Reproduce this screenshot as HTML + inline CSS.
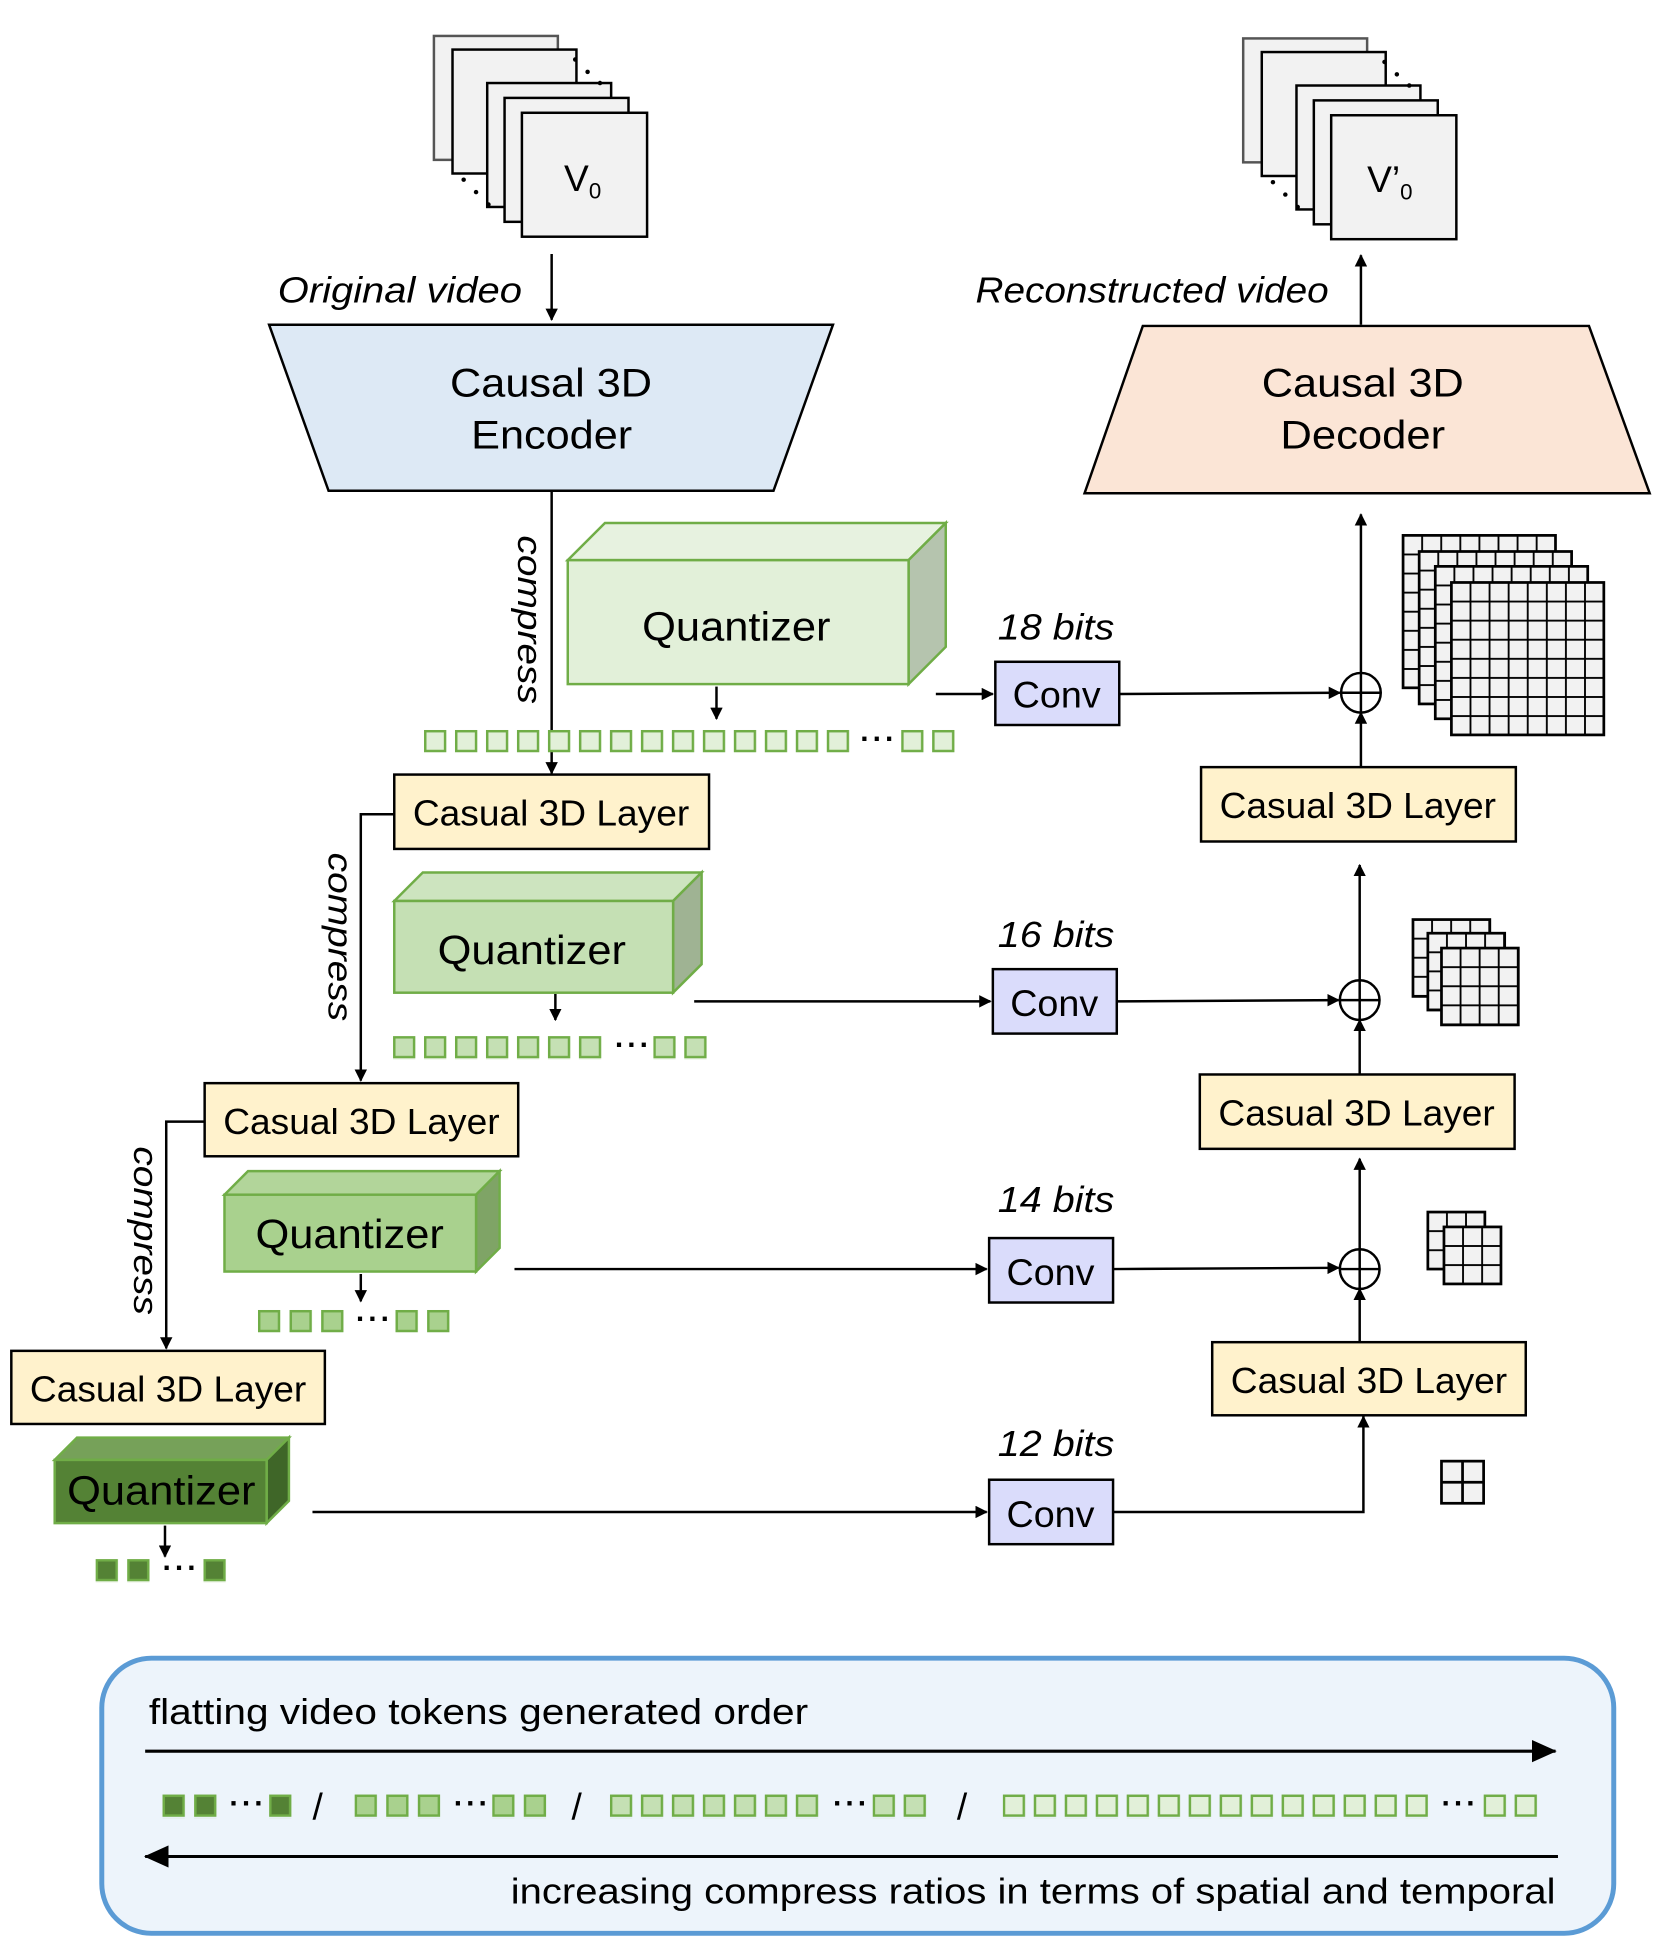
<!DOCTYPE html>
<html><head><meta charset="utf-8"><style>
html,body{margin:0;padding:0;background:#fff}
svg{display:block}
</style></head><body>
<svg width="1661" height="1942" viewBox="0 0 1340 1567" xmlns="http://www.w3.org/2000/svg" font-family="Liberation Sans, DejaVu Sans, sans-serif">
<defs>
<marker id="ar" markerWidth="10" markerHeight="10" refX="9" refY="5" orient="auto" markerUnits="userSpaceOnUse"><path d="M0,0 L10,5 L0,10 z" fill="#000"/></marker>
<marker id="arB" markerWidth="20" markerHeight="18" refX="19" refY="9" orient="auto" markerUnits="userSpaceOnUse"><path d="M0,0 L20,9 L0,18 z" fill="#000"/></marker>
<pattern id="t1" width="25" height="19" patternUnits="userSpaceOnUse"><rect x="1" y="1" width="16" height="16" fill="#e2f0d9" stroke="#70ad47" stroke-width="2"/></pattern>
<pattern id="t2" width="25" height="19" patternUnits="userSpaceOnUse"><rect x="1" y="1" width="16" height="16" fill="#c5e0b4" stroke="#70ad47" stroke-width="2"/></pattern>
<pattern id="t3" width="25.5" height="19" patternUnits="userSpaceOnUse"><rect x="1" y="1" width="16" height="16" fill="#a9d18e" stroke="#70ad47" stroke-width="2"/></pattern>
<pattern id="t4" width="25.5" height="19" patternUnits="userSpaceOnUse"><rect x="1" y="1" width="16" height="16" fill="#548235" stroke="#70ad47" stroke-width="2"/></pattern>
<pattern id="g" width="15.4" height="15.4" patternUnits="userSpaceOnUse"><rect width="15.4" height="15.4" fill="#f2f2f2" stroke="#000" stroke-width="1.5"/></pattern>
</defs>

<g fill="#f2f2f2" stroke="#000" stroke-width="2">
<rect x="350" y="29" width="100" height="100" stroke="#555"/>
<rect x="365" y="40" width="100" height="100"/>
<rect x="393" y="67" width="100" height="100"/>
<rect x="407" y="79" width="100" height="100"/>
<rect x="421" y="91" width="101" height="100"/>
</g>
<g fill="#000"><circle cx="464" cy="48" r="1.8"/><circle cx="474" cy="58" r="1.8"/><circle cx="484" cy="67" r="1.8"/>
<circle cx="374" cy="145" r="1.8"/><circle cx="384" cy="155" r="1.8"/><circle cx="394" cy="165" r="1.8"/></g>
<text x="455" y="154" font-size="30">V<tspan font-size="18" dy="6">0</tspan></text>

<g fill="#f2f2f2" stroke="#000" stroke-width="2">
<rect x="1003" y="31" width="100" height="100" stroke="#555"/>
<rect x="1018" y="42" width="100" height="100"/>
<rect x="1046" y="69" width="100" height="100"/>
<rect x="1060" y="81" width="100" height="100"/>
<rect x="1074" y="93" width="101" height="100"/>
</g>
<g fill="#000"><circle cx="1117" cy="50" r="1.8"/><circle cx="1127" cy="60" r="1.8"/><circle cx="1137" cy="69" r="1.8"/>
<circle cx="1027" cy="147" r="1.8"/><circle cx="1037" cy="157" r="1.8"/><circle cx="1047" cy="167" r="1.8"/></g>
<text x="1103" y="155" font-size="30">V’<tspan font-size="18" dy="6">0</tspan></text>

<g stroke="#000" stroke-width="2" fill="none">
<line x1="445" y1="205" x2="445" y2="258" marker-end="url(#ar)"/>
<line x1="1098" y1="262" x2="1098" y2="206" marker-end="url(#ar)"/>
</g>
<text x="224" y="244" font-size="29" font-style="italic" textLength="197" lengthAdjust="spacingAndGlyphs">Original video</text>
<text x="787" y="244" font-size="29" font-style="italic" textLength="285" lengthAdjust="spacingAndGlyphs">Reconstructed video</text>

<path d="M217,262 L672,262 L624,396 L265,396 z" fill="#dde9f5" stroke="#000" stroke-width="2"/>
<text x="363" y="320" font-size="32" textLength="163" lengthAdjust="spacingAndGlyphs">Causal 3D</text>
<text x="380" y="362" font-size="32" textLength="130" lengthAdjust="spacingAndGlyphs">Encoder</text>
<path d="M922,263 L1282,263 L1331,398 L875,398 z" fill="#fbe5d6" stroke="#000" stroke-width="2"/>
<text x="1018" y="320" font-size="32" textLength="163" lengthAdjust="spacingAndGlyphs">Causal 3D</text>
<text x="1033" y="362" font-size="32" textLength="133" lengthAdjust="spacingAndGlyphs">Decoder</text>

<g stroke="#000" stroke-width="2" fill="none">
<line x1="445" y1="396" x2="445" y2="624" marker-end="url(#ar)"/>
<polyline points="318,657 291,657 291,872" marker-end="url(#ar)"/>
<polyline points="165,905 134,905 134,1088" marker-end="url(#ar)"/>
<line x1="578" y1="554" x2="578" y2="580" marker-end="url(#ar)"/>
<line x1="448" y1="802" x2="448" y2="823" marker-end="url(#ar)"/>
<line x1="291" y1="1028" x2="291" y2="1050" marker-end="url(#ar)"/>
<line x1="133" y1="1231" x2="133" y2="1256" marker-end="url(#ar)"/>
<line x1="755" y1="560" x2="801" y2="560" marker-end="url(#ar)"/>
<line x1="560" y1="808" x2="799" y2="808" marker-end="url(#ar)"/>
<line x1="415" y1="1024" x2="796" y2="1024" marker-end="url(#ar)"/>
<line x1="252" y1="1220" x2="796" y2="1220" marker-end="url(#ar)"/>
<line x1="903" y1="560" x2="1081" y2="559" marker-end="url(#ar)"/>
<line x1="901" y1="808" x2="1080" y2="807" marker-end="url(#ar)"/>
<line x1="898" y1="1024" x2="1080" y2="1023" marker-end="url(#ar)"/>
<polyline points="898,1220 1100,1220 1100,1143" marker-end="url(#ar)"/>
<line x1="1097" y1="1083" x2="1097" y2="1040" marker-end="url(#ar)"/>
<line x1="1097" y1="1008" x2="1097" y2="935" marker-end="url(#ar)"/>
<line x1="1097" y1="867" x2="1097" y2="823" marker-end="url(#ar)"/>
<line x1="1097" y1="791" x2="1097" y2="698" marker-end="url(#ar)"/>
<line x1="1098" y1="619" x2="1098" y2="575" marker-end="url(#ar)"/>
<line x1="1098" y1="543" x2="1098" y2="415" marker-end="url(#ar)"/>
</g>
<g font-size="28" font-style="italic">
<text transform="translate(418,432) rotate(90)" textLength="136" lengthAdjust="spacingAndGlyphs">compress</text>
<text transform="translate(265,688) rotate(90)" textLength="136" lengthAdjust="spacingAndGlyphs">compress</text>
<text transform="translate(108,925) rotate(90)" textLength="136" lengthAdjust="spacingAndGlyphs">compress</text>
</g>

<g stroke="#000" stroke-width="2" fill="#fff">
<circle cx="1098" cy="559" r="16"/><path d="M1082,559 H1114 M1098,543 V575"/>
<circle cx="1097" cy="807" r="16"/><path d="M1081,807 H1113 M1097,791 V823"/>
<circle cx="1097" cy="1024" r="16"/><path d="M1081,1024 H1113 M1097,1008 V1040"/>
</g>

<g stroke="#70ad47" stroke-width="2">
<path d="M458,452 L488,422 L763,422 L733,452 z" fill="#e7f2e0"/>
<path d="M733,452 L763,422 L763,522 L733,552 z" fill="#b5c4ae"/>
<rect x="458" y="452" width="275" height="100" fill="#e2f0d9"/>
<path d="M318,727 L341,704 L566,704 L543,727 z" fill="#cde4bf"/>
<path d="M543,727 L566,704 L566,778 L543,801 z" fill="#9fb393"/>
<rect x="318" y="727" width="225" height="74" fill="#c5e0b4"/>
<path d="M181,964 L200,945 L403,945 L384,964 z" fill="#b2d59a"/>
<path d="M384,964 L403,945 L403,1007 L384,1026 z" fill="#7fa466"/>
<rect x="181" y="964" width="203" height="62" fill="#a9d18e"/>
<path d="M44,1178 L62,1160 L233,1160 L215,1178 z" fill="#76a159"/>
<path d="M215,1178 L233,1160 L233,1211 L215,1229 z" fill="#3f6628"/>
<rect x="44" y="1178" width="171" height="51" fill="#548235"/>
</g>
<g font-size="33">
<text x="518" y="517" textLength="152" lengthAdjust="spacingAndGlyphs">Quantizer</text>
<text x="353" y="778" textLength="152" lengthAdjust="spacingAndGlyphs">Quantizer</text>
<text x="206" y="1007" textLength="152" lengthAdjust="spacingAndGlyphs">Quantizer</text>
<text x="54" y="1214" textLength="152" lengthAdjust="spacingAndGlyphs">Quantizer</text>
</g>

<rect transform="translate(342,589)" width="344" height="19" fill="url(#t1)"/>
<rect transform="translate(727,589)" width="47" height="19" fill="url(#t1)"/>
<rect transform="translate(317,836)" width="172" height="19" fill="url(#t2)"/>
<rect transform="translate(527,836)" width="47" height="19" fill="url(#t2)"/>
<rect transform="translate(208,1057)" width="70" height="19" fill="url(#t3)"/>
<rect transform="translate(319,1057)" width="45" height="19" fill="url(#t3)"/>
<rect transform="translate(77,1258)" width="44" height="19" fill="url(#t4)"/>
<rect transform="translate(164,1258)" width="19" height="19" fill="url(#t4)"/>
<g font-size="24" font-weight="bold">
<text x="694" y="604" textLength="28">···</text><text x="496" y="851" textLength="28">···</text><text x="287" y="1072" textLength="28">···</text><text x="131" y="1273" textLength="28">···</text>
</g>

<g fill="#dadcfb" stroke="#000" stroke-width="2">
<rect x="803" y="534" width="100" height="51"/>
<rect x="801" y="782" width="100" height="52"/>
<rect x="798" y="999" width="100" height="52"/>
<rect x="798" y="1194" width="100" height="52"/>
</g>
<g font-size="30">
<text x="817" y="571" textLength="71" lengthAdjust="spacingAndGlyphs">Conv</text>
<text x="815" y="820" textLength="71" lengthAdjust="spacingAndGlyphs">Conv</text>
<text x="812" y="1037" textLength="71" lengthAdjust="spacingAndGlyphs">Conv</text>
<text x="812" y="1232" textLength="71" lengthAdjust="spacingAndGlyphs">Conv</text>
</g>
<g font-size="29" font-style="italic">
<text x="805" y="516" textLength="94" lengthAdjust="spacingAndGlyphs">18 bits</text>
<text x="805" y="764" textLength="94" lengthAdjust="spacingAndGlyphs">16 bits</text>
<text x="805" y="978" textLength="94" lengthAdjust="spacingAndGlyphs">14 bits</text>
<text x="805" y="1175" textLength="94" lengthAdjust="spacingAndGlyphs">12 bits</text>
</g>

<g fill="#fff2cc" stroke="#000" stroke-width="2">
<rect x="318" y="625" width="254" height="60"/>
<rect x="165" y="874" width="253" height="59"/>
<rect x="9" y="1090" width="253" height="59"/>
<rect x="969" y="619" width="254" height="60"/>
<rect x="968" y="867" width="254" height="60"/>
<rect x="978" y="1083" width="253" height="59"/>
</g>
<g font-size="29">
<text x="333" y="666" textLength="223" lengthAdjust="spacingAndGlyphs">Casual 3D Layer</text>
<text x="180" y="915" textLength="223" lengthAdjust="spacingAndGlyphs">Casual 3D Layer</text>
<text x="24" y="1131" textLength="223" lengthAdjust="spacingAndGlyphs">Casual 3D Layer</text>
<text x="984" y="660" textLength="223" lengthAdjust="spacingAndGlyphs">Casual 3D Layer</text>
<text x="983" y="908" textLength="223" lengthAdjust="spacingAndGlyphs">Casual 3D Layer</text>
<text x="993" y="1124" textLength="223" lengthAdjust="spacingAndGlyphs">Casual 3D Layer</text>
</g>

<g stroke="#000" stroke-width="2.2">
<rect transform="translate(1132,432)" width="123" height="123" fill="url(#g)"/>
<rect transform="translate(1145,445)" width="123" height="123" fill="url(#g)"/>
<rect transform="translate(1158,457)" width="123" height="123" fill="url(#g)"/>
<rect transform="translate(1171,470)" width="123" height="123" fill="url(#g)"/>
<rect transform="translate(1140,742)" width="62" height="62" fill="url(#g)"/>
<rect transform="translate(1152,753)" width="62" height="62" fill="url(#g)"/>
<rect transform="translate(1163,765)" width="62" height="62" fill="url(#g)"/>
<rect transform="translate(1152,978)" width="46" height="46" fill="url(#g)"/>
<rect transform="translate(1165,990)" width="46" height="46" fill="url(#g)"/>
<rect transform="translate(1163,1179)" width="34" height="34" fill="#f2f2f2"/>
<path d="M1180,1179 V1213 M1163,1196 H1197" fill="none"/>
</g>

<rect x="82" y="1338" width="1220" height="222" rx="40" fill="#edf4fb" stroke="#5b9bd5" stroke-width="4"/>
<text x="120" y="1391" font-size="29" textLength="532" lengthAdjust="spacingAndGlyphs">flatting video tokens generated order</text>
<line x1="117" y1="1413" x2="1255" y2="1413" stroke="#000" stroke-width="2.5" marker-end="url(#arB)"/>
<line x1="1257" y1="1498" x2="117" y2="1498" stroke="#000" stroke-width="2.5" marker-end="url(#arB)"/>
<text x="412" y="1536" font-size="29" textLength="843" lengthAdjust="spacingAndGlyphs">increasing compress ratios in terms of spatial and temporal</text>
<rect transform="translate(131,1448)" width="44" height="19" fill="url(#t4)"/>
<rect transform="translate(217,1448)" width="19" height="19" fill="url(#t4)"/>
<rect transform="translate(286,1448)" width="70" height="19" fill="url(#t3)"/>
<rect transform="translate(397,1448)" width="45" height="19" fill="url(#t3)"/>
<rect transform="translate(492,1448)" width="172" height="19" fill="url(#t2)"/>
<rect transform="translate(704,1448)" width="47" height="19" fill="url(#t2)"/>
<rect transform="translate(809,1448)" width="344" height="19" fill="url(#t1)"/>
<rect transform="translate(1197,1448)" width="47" height="19" fill="url(#t1)"/>
<g font-size="24" font-weight="bold">
<text x="185" y="1463" textLength="28">···</text><text x="366" y="1463" textLength="28">···</text><text x="672" y="1463" textLength="28">···</text><text x="1163" y="1463" textLength="28">···</text>
</g>
<g font-size="30"><text x="252" y="1468">/</text><text x="461" y="1468">/</text><text x="772" y="1468">/</text></g>
</svg>
</body></html>
